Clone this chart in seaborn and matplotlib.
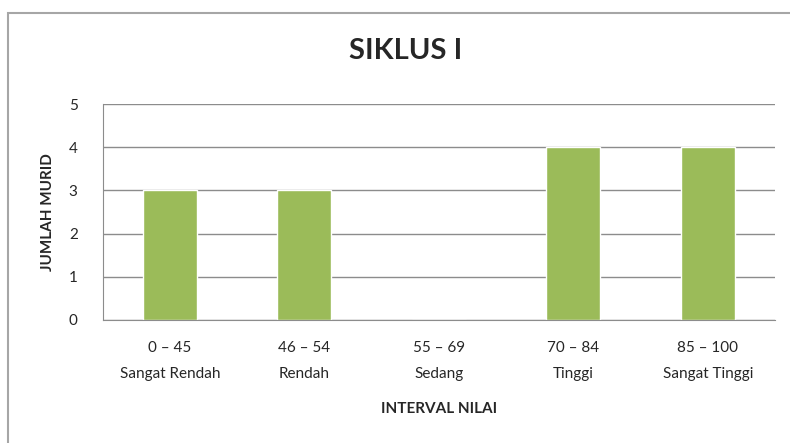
import matplotlib
matplotlib.use('Agg')
import matplotlib.pyplot as plt
import matplotlib.patches as patches
import pandas as pd
import seaborn as sns

intervals = ['0 – 45', '46 – 54', '55 – 69', '70 – 84', '85 – 100']
categories = ['Sangat Rendah', 'Rendah', 'Sedang', 'Tinggi', 'Sangat Tinggi']
jumlah_murid = [3, 3, 0, 4, 4]

df = pd.DataFrame({
    'label': [f'{a}\n{b}' for a, b in zip(intervals, categories)],
    'jumlah': jumlah_murid,
})

sns.set_style('white')
plt.rcParams['font.family'] = ['Lato', 'DejaVu Sans']

fig = plt.figure(figsize=(7.9, 4.43), dpi=100)
ax = fig.add_axes([0.130, 0.278, 0.851, 0.487])

sns.barplot(data=df, x='label', y='jumlah', color='#9BBB59', width=0.4,
            saturation=1, ax=ax)

ax.set_ylim(0, 5)
ax.set_yticks(range(0, 6))
ax.grid(True, axis='y', color='#8c8c8c', linewidth=1)
ax.set_axisbelow(True)
for s in ['top', 'right']:
    ax.spines[s].set_visible(False)
ax.spines['left'].set_color('#8c8c8c')
ax.spines['bottom'].set_color('#8c8c8c')
ax.tick_params(axis='y', length=6, color='#8c8c8c', labelsize=11, pad=12)
ax.tick_params(axis='x', length=0, labelsize=11, pad=15)
for t in ax.get_xticklabels():
    t.set_linespacing(2.1)

ax.set_xlabel('INTERVAL NILAI', fontsize=11, fontweight='bold', labelpad=15)
ax.set_ylabel('JUMLAH MURID', fontsize=11, fontweight='bold', labelpad=10)
fig.text(0.513, 0.885, 'SIKLUS I', ha='center', va='center',
         fontsize=21, fontweight='bold')

# chart border
fig.patches.append(patches.Rectangle((8 / 790, -0.1), 1.2, 1.1 - 13 / 443,
                                     transform=fig.transFigure, fill=False,
                                     edgecolor='#a6a6a6', linewidth=1.5))

fig.savefig('out.png', dpi=100)
